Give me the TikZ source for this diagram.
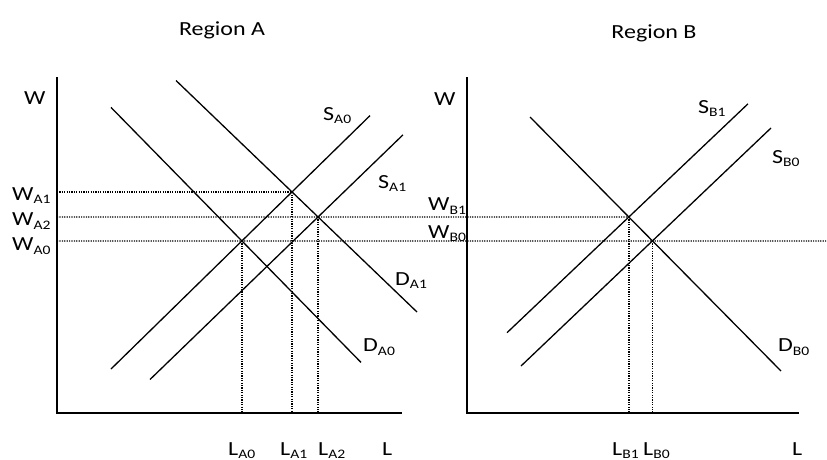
\documentclass[tikz,border=0pt]{standalone}
\usepackage{fontspec}
\setmainfont{Carlito}
\newcommand{\sx}[1]{\scalebox{1.2}[1]{#1}}
\newcommand{\lb}[2]{\sx{#1\raisebox{-3.5pt}{\fontsize{13}{13}\selectfont #2}}}
\tikzset{
  axisline/.style={line width=2pt},
  curveline/.style={line width=1.3pt},
  guide/.style={line width=1.2pt, dash pattern=on 1.2pt off 1.2pt},
  lbl/.style={inner sep=0pt, anchor=base west, font=\fontsize{20}{20}\selectfont},
  ttl/.style={inner sep=0pt, anchor=base, font=\fontsize{20}{20}\selectfont},
}
\begin{document}
\begin{tikzpicture}[x=1pt,y=-1pt]
\useasboundingbox (0,0) rectangle (827,459);
% axes
\coordinate (Atop) at (57,77);
\coordinate (Aorig) at (57,412.7);
\coordinate (Aend) at (401.7,412.7);
\coordinate (Btop) at (467,77);
\coordinate (Borig) at (467,412.7);
\coordinate (Bend) at (799,412.7);
\coordinate (Rend) at (827,0);
\draw[axisline] (Atop) -- (Aorig) -- (Aend);
\draw[axisline] (Btop) -- (Borig) -- (Bend);
% curve end points, region A
\coordinate (DA0a) at (111,107.4);  \coordinate (DA0b) at (361,362.4);
\coordinate (DA1a) at (176,80.5);   \coordinate (DA1b) at (417,312);
\coordinate (SA0a) at (111,369);    \coordinate (SA0b) at (370,115.6);
\coordinate (SA1a) at (150,379.5);  \coordinate (SA1b) at (403,134.8);
% region B
\coordinate (DB0a) at (530,117);    \coordinate (DB0b) at (781,371);
\coordinate (SB1a) at (507,332.7);  \coordinate (SB1b) at (748,103.8);
\coordinate (SB0a) at (521,366);    \coordinate (SB0b) at (771,128);
\draw[curveline] (DA0a) -- (DA0b);
\draw[curveline] (DA1a) -- (DA1b);
\draw[curveline] (SA0a) -- (SA0b);
\draw[curveline] (SA1a) -- (SA1b);
\draw[curveline] (DB0a) -- (DB0b);
\draw[curveline] (SB1a) -- (SB1b);
\draw[curveline] (SB0a) -- (SB0b);
% equilibria
\coordinate (EA0) at (intersection of DA0a--DA0b and SA0a--SA0b);
\coordinate (EA1) at (intersection of DA1a--DA1b and SA0a--SA0b);
\coordinate (EA2) at (intersection of DA1a--DA1b and SA1a--SA1b);
\coordinate (EB1) at (intersection of DB0a--DB0b and SB1a--SB1b);
\coordinate (EB0) at (intersection of DB0a--DB0b and SB0a--SB0b);
% guides
\draw[guide] (Atop |- EA1) -- (EA1) -- (EA1 |- Aorig);
\draw[guide] (Atop |- EA2) -- (EA2) -- (EB1);
\draw[guide] (EA2) -- (EA2 |- Aorig);
\draw[guide] (EB1) -- (EB1 |- Borig);
\draw[guide] (Atop |- EA0) -- (EA0) -- (EB0) -- (Rend |- EB0);
\draw[guide] (EA0) -- (EA0 |- Aorig);
\draw[guide] (EB0) -- (EB0 |- Borig);
% titles
\node[ttl] (tA) at (222,35) {\sx{Region A}};
\node[ttl] (tB) at (654,38) {\sx{Region B}};
% axis labels
\node[lbl] (wA) at (24,104) {\sx{W}};
\node[lbl] (wB) at (434,105) {\sx{W}};
\node[lbl] (wA1) at (12,200) {\lb{W}{A1}};
\node[lbl] (wA2) at (12,225.7) {\lb{W}{A2}};
\node[lbl] (wA0) at (12,250.7) {\lb{W}{A0}};
\node[lbl] (wB1) at (428,210.7) {\lb{W}{B1}};
\node[lbl] (wB0) at (428,238.3) {\lb{W}{B0}};
\node[lbl] (sA0) at (323,120) {\lb{S}{A0}};
\node[lbl] (sA1) at (378,188) {\lb{S}{A1}};
\node[lbl] (dA1) at (395,285) {\lb{D}{A1}};
\node[lbl] (dA0) at (363,351.7) {\lb{D}{A0}};
\node[lbl] (sB1) at (698,113) {\lb{S}{B1}};
\node[lbl] (sB0) at (772,163) {\lb{S}{B0}};
\node[lbl] (dB0) at (778,351.7) {\lb{D}{B0}};
\node[lbl] (lA0) at (228,455) {\lb{L}{A0}};
\node[lbl] (lA1) at (280,455) {\lb{L}{A1}};
\node[lbl] (lA2) at (318,455) {\lb{L}{A2}};
\node[lbl] (lA) at (382,455) {\sx{L}};
\node[lbl] (lB1) at (612,455) {\lb{L}{B1}};
\node[lbl] (lB0) at (643,455) {\lb{L}{B0}};
\node[lbl] (lB) at (792,455) {\sx{L}};
\end{tikzpicture}
\end{document}
